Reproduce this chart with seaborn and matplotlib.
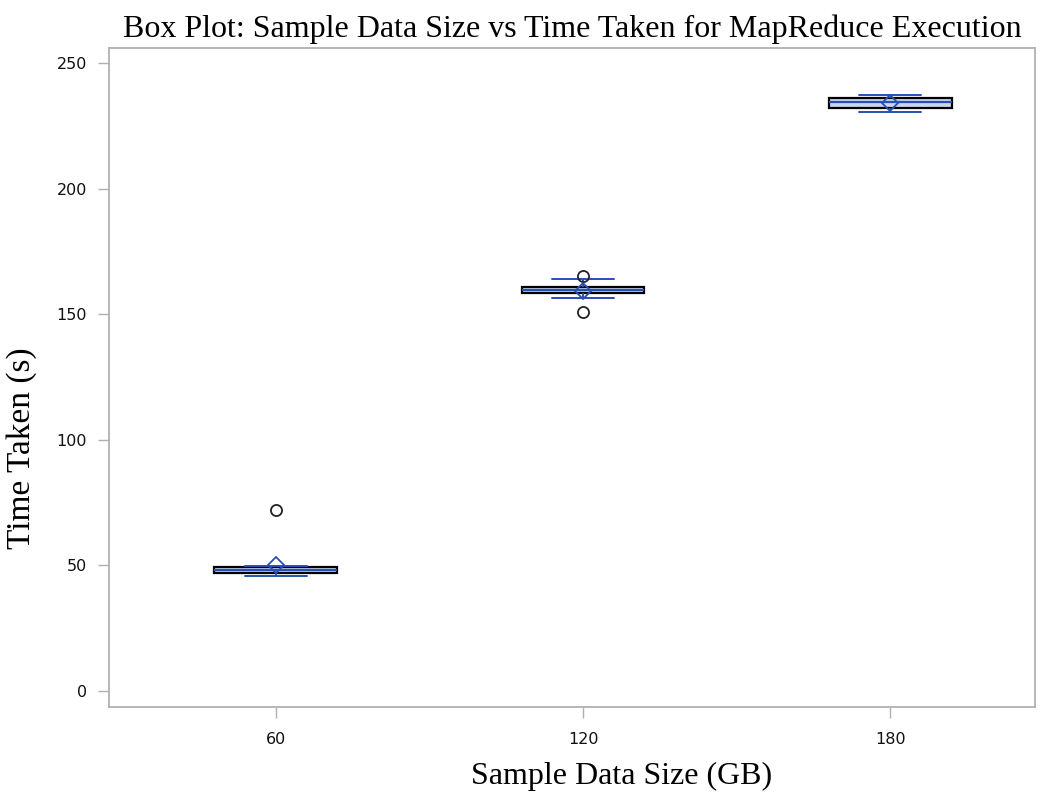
import numpy as np
import pandas as pd
import matplotlib
matplotlib.use("Agg")
import matplotlib.pyplot as plt
import seaborn as sns

# Data
sizes = [60, 120, 180]
times_60 = [45.8, 46.5, 47.0, 47.5, 48.0, 48.3, 48.8, 49.3, 49.8, 72.2]
times_120 = [151.0, 156.3, 158.2, 158.8, 159.5, 160.0, 160.5, 161.0, 163.9, 165.2]
times_180 = [230.4, 231.5, 232.0, 233.0, 234.0, 234.8, 235.5, 236.3, 236.8, 237.3]
y_ticks = [0, 50, 100, 150, 200, 250]

df = pd.DataFrame({
    "size": [sizes[0]] * len(times_60) + [sizes[1]] * len(times_120) + [sizes[2]] * len(times_180),
    "time": times_60 + times_120 + times_180,
})

sns.set_theme(style="white")
plt.rcParams["font.family"] = ["DejaVu Sans"]
plt.rcParams["text.color"] = "black"
plt.rcParams["axes.labelcolor"] = "black"

fig = plt.figure(figsize=(10.51, 8.05), dpi=100)
ax = fig.add_axes([0.1037, 0.1217, 0.8811, 0.8187])

blue = "#2650b4"
sns.boxplot(
    data=df, x="size", y="time", native_scale=True, width=0.40,
    color="#c6d5ef", linecolor="black", linewidth=1.6,
    showmeans=True,
    meanprops=dict(marker="D", markerfacecolor="none", markeredgecolor=blue,
                   markersize=8, markeredgewidth=1.3),
    medianprops=dict(color=blue, linewidth=1.6),
    whiskerprops=dict(color=blue, linewidth=1.4),
    capprops=dict(color=blue, linewidth=1.4),
    flierprops=dict(marker="o", markerfacecolor="none", markeredgecolor="#222222",
                    markersize=8, markeredgewidth=1.3),
    ax=ax,
)

ax.set_xlim(27.4, 208.3)
ax.set_ylim(-6.4, 256)
ax.set_xticks(sizes)
ax.set_xticklabels([str(s) for s in sizes])
ax.set_yticks(y_ticks)
ax.set_yticklabels([str(t) for t in y_ticks])

for s in ax.spines.values():
    s.set_visible(True)
    s.set_color("#b0b0b0")
    s.set_linewidth(1.3)
ax.tick_params(axis="both", which="both", direction="out", length=8, width=1,
               color="#b0b0b0", labelsize=11.5, labelcolor="#111111",
               bottom=True, left=True)
ax.tick_params(axis="y", pad=8)
ax.tick_params(axis="x", pad=10)

serif = ["Liberation Serif", "DejaVu Serif"]
ax.set_title("Box Plot: Sample Data Size vs Time Taken for MapReduce Execution",
             fontsize=23, family=serif, pad=8, color="black")
ax.set_xlabel("Sample Data Size (GB)", fontsize=23, family=serif)
ax.set_ylabel("Time Taken (s)", fontsize=24, family=serif)
ax.xaxis.set_label_coords(0.554, -0.105)
ax.xaxis.label.set_va("center")
ax.yaxis.set_label_coords(-0.094, 0.393)
ax.yaxis.label.set_va("center")

fig.savefig("out.png", dpi=100)
